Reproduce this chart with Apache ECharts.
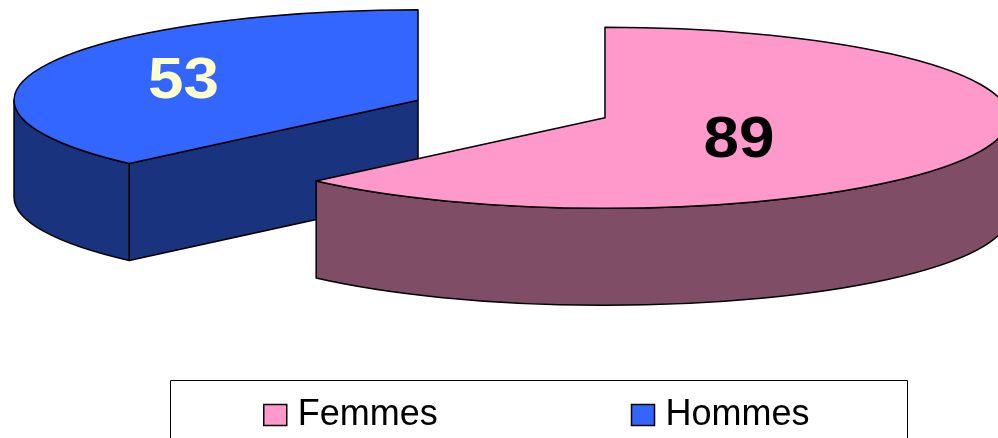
<!DOCTYPE html>
<html>
<head>
<meta charset="utf-8">
<script src="https://cdn.jsdelivr.net/npm/echarts@6/dist/echarts.min.js"></script>
<style>
  html, body { margin: 0; padding: 0; background: #fff; }
  #chart { width: 998px; height: 438px; }
</style>
</head>
<body>
<div id="chart"></div>
<script>
// data
const CATEGORIES = ["Femmes", "Hommes"];
const VALUES = [89, 53];

// colours
const TOP_COLORS = ["#FF99CC", "#3366FF"];
const SIDE_COLORS = ["#804D66", "#1A337F"];
const LABEL_COLORS = ["#000000", "#FFFFCC"];

// pie geometry (pseudo 3D, projected ellipse)
const CX = 511.5, CY = 109, RX = 404, RY = 90.5, DEPTH = 97, EXPLODE = 0.251;
const LABEL_DIST = [0.36, 0.63];
const LABEL_DY = [11, 4];

const total = VALUES.reduce((a, b) => a + b, 0);
const starts = [];
let acc = 0;
VALUES.forEach((v) => { starts.push(acc / total * 2 * Math.PI); acc += v; });

function pt(cx, cy, a, dy) {
  return [cx + RX * Math.sin(a), cy - RY * Math.cos(a) + (dy || 0)];
}

function renderSlice(idx) {
  const a0 = starts[idx];
  const a1 = a0 + VALUES[idx] / total * 2 * Math.PI;
  const mid = (a0 + a1) / 2;
  const cx = CX + EXPLODE * RX * Math.sin(mid);
  const cy = CY - EXPLODE * RY * Math.cos(mid);
  const stroke = { stroke: "#000", lineWidth: 1.5, lineJoin: "round" };
  const children = [];

  // radial faces, only the ones facing the viewer
  const radial = [];
  if (Math.sin(a0) < -1e-6) radial.push(a0);
  if (Math.sin(a1) > 1e-6) radial.push(a1);
  radial.forEach((a) => {
    const p = pt(cx, cy, a);
    children.push({
      type: "polygon",
      shape: { points: [[cx, cy], p, [p[0], p[1] + DEPTH], [cx, cy + DEPTH]] },
      style: Object.assign({ fill: SIDE_COLORS[idx] }, stroke),
    });
  });

  // curved front side
  const b0 = Math.max(a0, Math.PI / 2);
  const b1 = Math.min(a1, Math.PI * 1.5);
  if (b1 > b0) {
    const t0 = pt(cx, cy, b0), t1 = pt(cx, cy, b1);
    const d = "M" + t0[0] + " " + t0[1] +
      " A" + RX + " " + RY + " 0 0 1 " + t1[0] + " " + t1[1] +
      " L" + t1[0] + " " + (t1[1] + DEPTH) +
      " A" + RX + " " + RY + " 0 0 0 " + t0[0] + " " + (t0[1] + DEPTH) + " Z";
    children.push({
      type: "path",
      shape: { pathData: d },
      style: Object.assign({ fill: SIDE_COLORS[idx] }, stroke),
    });
  }

  // top face
  const p0 = pt(cx, cy, a0), p1 = pt(cx, cy, a1);
  const large = a1 - a0 > Math.PI ? 1 : 0;
  const top = "M" + cx + " " + cy + " L" + p0[0] + " " + p0[1] +
    " A" + RX + " " + RY + " 0 " + large + " 1 " + p1[0] + " " + p1[1] + " Z";
  children.push({
    type: "path",
    shape: { pathData: top },
    style: Object.assign({ fill: TOP_COLORS[idx] }, stroke),
  });

  // value label
  children.push({
    type: "text",
    x: cx + LABEL_DIST[idx] * RX * Math.sin(mid),
    y: cy - LABEL_DIST[idx] * RY * Math.cos(mid) + LABEL_DY[idx],
    scaleX: 1.1,
    style: {
      text: String(VALUES[idx]),
      font: 'bold 58px "Liberation Sans", Arial, sans-serif',
      fill: LABEL_COLORS[idx],
      align: "center",
      verticalAlign: "middle",
    },
  });

  return { type: "group", children };
}

const chart = echarts.init(document.getElementById("chart"), null, { renderer: "canvas" });
chart.setOption({
  animation: false,
  backgroundColor: "#fff",
  legend: {
    data: CATEGORIES.map((name, i) => ({
      name,
      itemStyle: { color: TOP_COLORS[i], borderColor: "#000", borderWidth: 1.5 },
    })),
    left: 258,
    top: 390,
    icon: "rect",
    itemWidth: 23,
    itemHeight: 21,
    itemGap: 193,
    selectedMode: false,
    textStyle: {
      fontFamily: '"Liberation Sans", Arial, sans-serif',
      fontSize: 36,
      color: "#000",
      lineHeight: 40,
      padding: [0, 0, 0, 6],
    },
  },
  graphic: [
    {
      type: "rect",
      shape: { x: 170.5, y: 380.5, width: 737, height: 80 },
      style: { fill: "none", stroke: "#000", lineWidth: 1 },
    },
  ],
  series: CATEGORIES.map((name, i) => ({
    type: "custom",
    name,
    coordinateSystem: "none",
    data: [[VALUES[i]]],
    z: i === 0 ? 3 : 2,
    silent: true,
    itemStyle: { color: TOP_COLORS[i] },
    renderItem: () => renderSlice(i),
  })),
});
</script>
</body>
</html>
